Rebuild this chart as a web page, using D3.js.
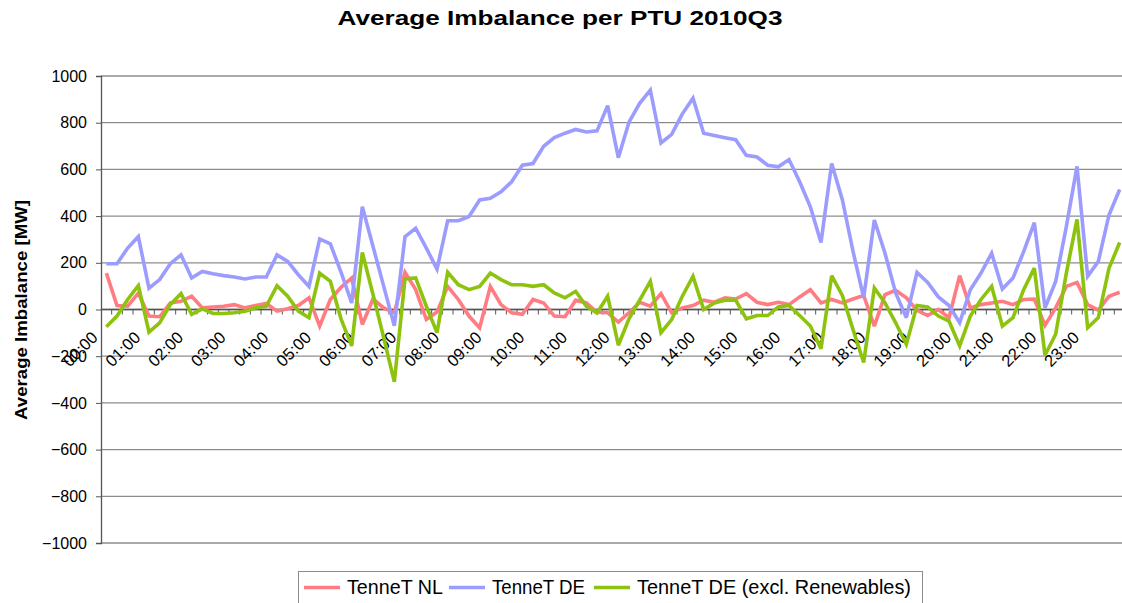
<!DOCTYPE html>
<html><head><meta charset="utf-8">
<script src="https://cdn.jsdelivr.net/npm/d3@7"></script>
<style>
html,body{margin:0;padding:0;background:#fff;}
svg{display:block;font-family:"Liberation Sans",Arial,sans-serif;}
</style></head>
<body><svg id="chart" width="1122" height="603"></svg>
<script>
const hourLabels = ["00:00","01:00","02:00","03:00","04:00","05:00","06:00","07:00","08:00","09:00","10:00","11:00",
  "12:00","13:00","14:00","15:00","16:00","17:00","18:00","19:00","20:00","21:00","22:00","23:00"];
const quarterSuffix = [":00",":15",":30",":45"];
const categories = hourLabels.flatMap(h => quarterSuffix.map(q => h.slice(0,2) + q));
const yTicks = [1000,800,600,400,200,0,-200,-400,-600,-800,-1000];

const tennetNL = [156,17,14,70,-28,-31,28,35,57,7,11,14,21,7,17,26,-7,3,17,50,-71,43,95,135,
  -64,45,7,-14,159,85,-43,-11,99,43,-28,-78,99,21,-14,-21,43,28,-28,-31,40,28,-12,-14,
  -54,-14,31,14,68,-14,7,17,40,31,50,45,68,31,21,31,21,54,85,28,43,28,45,60,
  -71,64,82,50,-3,-26,0,-35,145,7,21,28,35,21,43,45,-68,7,99,116,21,-3,57,74];
const tennetDE = [196,196,263,312,91,128,196,234,135,163,153,145,139,131,139,139,234,206,149,99,302,281,160,28,
  440,270,100,-70,312,348,263,173,380,380,398,469,476,504,547,618,625,699,736,755,771,760,765,873,
  650,802,883,940,713,750,838,905,755,745,736,727,660,653,618,611,642,547,440,287,625,470,250,50,
  383,241,71,-35,159,116,54,17,-57,85,156,241,88,135,248,372,7,120,355,613,142,206,405,514];
const tennetDEexcl = [-74,-28,43,102,-97,-57,21,68,-21,3,-17,-17,-14,-7,7,14,102,57,-7,-35,156,121,-40,-156,
  244,64,-120,-310,131,135,14,-99,159,106,85,99,156,128,106,106,99,106,71,50,78,14,-15,57,
  -153,-40,40,121,-99,-43,57,142,0,28,40,40,-40,-26,-26,11,17,-26,-71,-168,145,60,-85,-227,
  92,28,-57,-149,17,11,-28,-50,-156,-28,43,99,-71,-35,85,177,-196,-106,156,386,-78,-35,177,287];

const seriesNames = ["TenneT NL","TenneT DE","TenneT DE (excl. Renewables)"];
const seriesColors = ["#FF7C82","#9C9CFF","#8DC30F"];
const seriesData = [tennetNL, tennetDE, tennetDEexcl];

const svg = d3.select("#chart");
const plot = {left:101, right:1125, top:76, bottom:543};

const x = d3.scaleBand().domain(categories).range([plot.left, plot.right]);
const y = d3.scaleLinear().domain([-1000,1000]).range([plot.bottom, plot.top]);
const cx = c => x(c) + x.bandwidth()/2;

// Title
svg.append("text").attr("x",560).attr("y",25).attr("text-anchor","middle")
  .attr("font-weight","bold").attr("font-size",20.5).attr("fill","#000")
  .attr("textLength",445).attr("lengthAdjust","spacingAndGlyphs")
  .text("Average Imbalance per PTU 2010Q3");

// Y title
svg.append("text").attr("transform",`translate(27,310) rotate(-90)`).attr("text-anchor","middle")
  .attr("font-weight","bold").attr("font-size",17).attr("fill","#000")
  .attr("textLength",220).attr("lengthAdjust","spacingAndGlyphs")
  .text("Average Imbalance [MW]");

// Gridlines
svg.append("g").selectAll("line").data(yTicks).join("line")
  .attr("x1",plot.left).attr("x2",1122).attr("y1",d=>y(d)).attr("y2",d=>y(d))
  .attr("stroke","#8c8c8c").attr("stroke-width",1.3);

// Y axis
const yAxis = d3.axisLeft(y).tickValues(yTicks).tickSize(5).tickPadding(9).tickFormat(d3.format("d"));
const gy = svg.append("g").attr("transform",`translate(${plot.left},0)`).call(yAxis);
gy.select(".domain").attr("stroke","#555").attr("stroke-width",1.3);
gy.selectAll(".tick line").attr("stroke","#555");
gy.selectAll(".tick text").attr("font-size",16).attr("fill","#000")
  .attr("font-family","Liberation Sans, Arial, sans-serif");

// X axis at zero line
const gx = svg.append("g").attr("transform",`translate(0,${y(0)})`);
gx.append("line").attr("x1",plot.left).attr("x2",1122).attr("y1",0).attr("y2",0)
  .attr("stroke","#555").attr("stroke-width",1.3);
gx.selectAll("line.tk").data(categories).join("line").attr("class","tk")
  .attr("x1",d=>x(d)+x.bandwidth()).attr("x2",d=>x(d)+x.bandwidth())
  .attr("y1",0).attr("y2",5).attr("stroke","#555");
gx.selectAll("text").data(hourLabels).join("text")
  .attr("transform",d=>`translate(${cx(d)-7.5},29) rotate(-45)`)
  .attr("text-anchor","end").attr("font-size",16.5).attr("fill","#000")
  .text(d=>d);

// Lines
const line = d3.line().x((d,i)=>cx(categories[i])).y(d=>y(d));
svg.append("g").selectAll("path").data(seriesData).join("path")
  .attr("d",line).attr("fill","none")
  .attr("stroke",(d,i)=>seriesColors[i]).attr("stroke-width",3.6)
  .attr("stroke-linejoin","miter").attr("stroke-miterlimit",3);

// Legend
const lg = svg.append("g");
lg.append("rect").attr("x",298.5).attr("y",571.5).attr("width",624).attr("height",40)
  .attr("fill","#fff").attr("stroke","#8c8c8c").attr("stroke-width",1);
const legendX = [304,449,594];
const legendW = [96,93,274];
seriesNames.forEach((n,i)=>{
  lg.append("line").attr("x1",legendX[i]).attr("x2",legendX[i]+36).attr("y1",587.5).attr("y2",587.5)
    .attr("stroke",seriesColors[i]).attr("stroke-width",3.6);
  lg.append("text").attr("x",legendX[i]+43).attr("y",594).attr("font-size",19.5).attr("fill","#000")
    .attr("textLength",legendW[i]).attr("lengthAdjust","spacingAndGlyphs").text(n);
});
</script></body></html>
